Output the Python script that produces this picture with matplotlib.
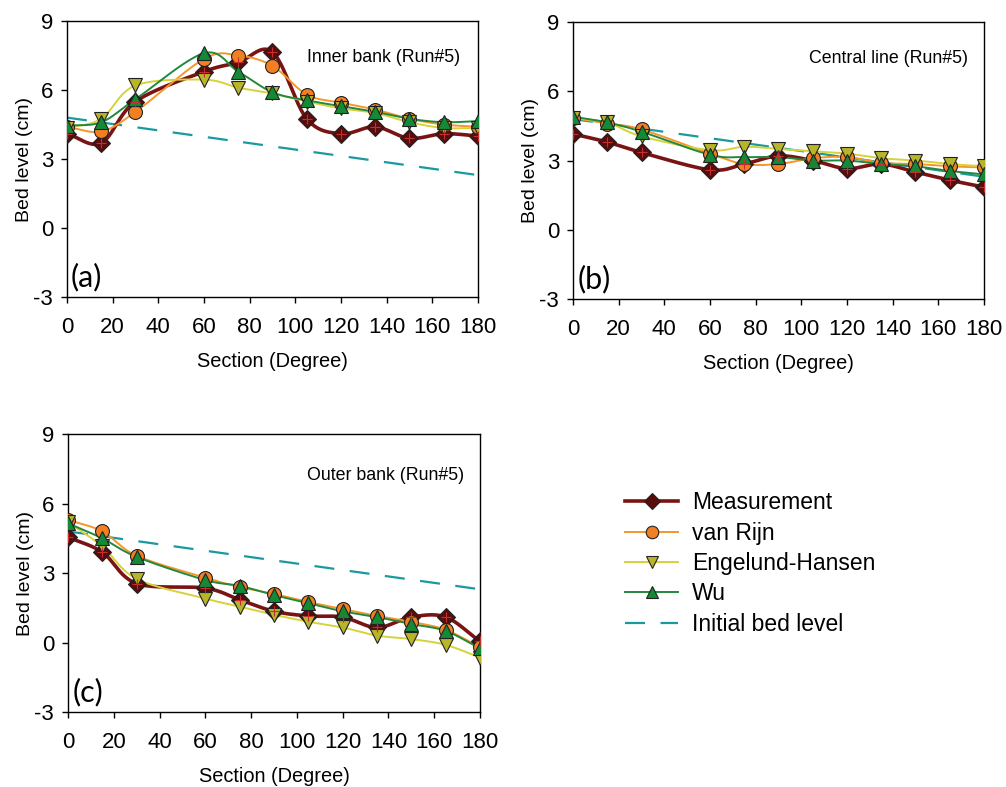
import numpy as np
import matplotlib
matplotlib.use('Agg')
import matplotlib.pyplot as plt
from matplotlib.lines import Line2D

plt.rcParams['font.family'] = ['Liberation Sans', 'DejaVu Sans']
plt.rcParams['axes.unicode_minus'] = False

sections = [0, 15, 30, 60, 75, 90, 105, 120, 135, 150, 165, 180]
initial_bed = [4.8, 2.3]  # linear initial bed level from 0 to 180 degree

# inner bank
inner_meas = [4.1, 3.7, 5.5, 6.8, 7.2, 7.65, 4.75, 4.1, 4.4, 3.9, 4.1, 4.0]
inner_vr = [4.4, 4.2, 5.05, 7.35, 7.5, 7.05, 5.8, 5.45, 5.15, 4.75, 4.5, 4.4]
inner_eh = [4.35, 4.75, 6.2, 6.45, 6.1, 5.85, 5.5, 5.2, 5.0, 4.6, 4.35, 4.35]
inner_wu = [4.45, 4.6, 5.6, 7.6, 6.8, 5.9, 5.55, 5.3, 5.05, 4.75, 4.6, 4.65]

# central line
center_meas = [4.15, 3.8, 3.35, 2.6, 2.85, 3.2, 3.0, 2.65, 2.85, 2.5, 2.15, 1.85]
center_vr = [4.85, 4.6, 4.35, 3.3, 2.85, 2.85, 3.1, 3.15, 2.9, 2.85, 2.75, 2.7]
center_eh = [4.85, 4.65, 4.05, 3.45, 3.6, 3.5, 3.4, 3.3, 3.1, 3.0, 2.85, 2.75]
center_wu = [4.9, 4.65, 4.25, 3.25, 3.15, 3.15, 3.0, 3.0, 2.85, 2.75, 2.55, 2.4]

# outer bank
outer_meas = [4.55, 3.9, 2.55, 2.35, 1.85, 1.35, 1.15, 1.1, 0.65, 1.1, 1.1, 0.05]
outer_vr = [5.3, 4.8, 3.75, 2.8, 2.4, 2.1, 1.75, 1.45, 1.15, 0.9, 0.55, -0.2]
outer_eh = [5.2, 4.15, 2.75, 1.9, 1.55, 1.2, 0.9, 0.65, 0.3, 0.15, -0.1, -0.65]
outer_wu = [5.15, 4.5, 3.7, 2.7, 2.45, 2.05, 1.7, 1.35, 1.1, 0.8, 0.5, -0.25]

# tag, title, title position (axes fraction), axes rect, series
panels = [
    ('(a)', 'Inner bank (Run#5)', (0.956, 0.866), [0.0666, 0.6226, 0.4085, 0.3507],
     [inner_meas, inner_vr, inner_eh, inner_wu]),
    ('(b)', 'Central line (Run#5)', (0.96, 0.87), [0.5696, 0.6200, 0.4085, 0.3520],
     [center_meas, center_vr, center_eh, center_wu]),
    ('(c)', 'Outer bank (Run#5)', (0.961, 0.852), [0.0676, 0.0953, 0.4095, 0.3530],
     [outer_meas, outer_vr, outer_eh, outer_wu]),
]

# line colour, marker face colour, marker, marker size, line width
styles = [
    ('#7a1414', '#5a0c0c', 'D', 9.5, 2.6),
    ('#f5962a', '#f28022', 'o', 10, 1.4),
    ('#d6d23a', '#b8b52a', 'v', 10, 1.4),
    ('#23883c', '#138a35', '^', 10, 1.4),
]
names = ['Measurement', 'van Rijn', 'Engelund-Hansen', 'Wu']
dash_color = '#1a9aa0'


def smooth(x, y, n=24):
    # Catmull-Rom curve through the points, like a spreadsheet smoothed line
    x = np.asarray(x, float)
    y = np.asarray(y, float)
    px = np.concatenate([[2 * x[0] - x[1]], x, [2 * x[-1] - x[-2]]])
    py = np.concatenate([[2 * y[0] - y[1]], y, [2 * y[-1] - y[-2]]])
    xs, ys = [], []
    t = np.linspace(0, 1, n, endpoint=False)
    for i in range(1, len(px) - 2):
        for p, out in ((px, xs), (py, ys)):
            p0, p1, p2, p3 = p[i - 1], p[i], p[i + 1], p[i + 2]
            out.extend(0.5 * (2 * p1 + (-p0 + p2) * t
                              + (2 * p0 - 5 * p1 + 4 * p2 - p3) * t ** 2
                              + (-p0 + 3 * p1 - 3 * p2 + p3) * t ** 3))
    xs.append(x[-1])
    ys.append(y[-1])
    return np.array(xs), np.array(ys)


fig = plt.figure(figsize=(10.06, 7.87), dpi=100)

for tag, title, tpos, rect, series in panels:
    ax = fig.add_axes(rect)
    ax.plot([sections[0], sections[-1]], initial_bed, color=dash_color,
            lw=1.6, dashes=(9, 7), zorder=2)
    for vals, (lc, fc, mk, ms, lw) in zip(series, styles):
        sx, sy = smooth(sections, vals)
        ax.plot(sx, sy, color=lc, lw=lw, zorder=3)
        ax.plot(sections, vals, ls='none', marker=mk, ms=ms, mfc=fc,
                mec='#222222', mew=0.8, zorder=4)
        if mk == 'D':
            ax.plot(sections, vals, ls='none', marker='+', ms=7,
                    mec='#c03030', mew=0.8, zorder=5)
    ax.set_xlim(0, 180)
    ax.set_ylim(-3, 9)
    ax.set_xticks(np.arange(0, 181, 20))
    ax.set_yticks([-3, 0, 3, 6, 9])
    ax.tick_params(direction='out', length=4, width=1, labelsize=16)
    ax.tick_params(axis='x', pad=10.5)
    ax.tick_params(axis='y', pad=6)
    for sp in ax.spines.values():
        sp.set_linewidth(1.0)
    ax.set_xlabel('Section (Degree)', fontsize=14.4, labelpad=10)
    ax.set_ylabel('Bed level (cm)', fontsize=14, labelpad=0)
    ax.text(tpos[0], tpos[1], title, transform=ax.transAxes, ha='right',
            va='center', fontsize=12.8)
    ax.text(0.01, 0.02, tag, transform=ax.transAxes, ha='left',
            va='bottom', fontsize=22, family=['Lato', 'DejaVu Sans'])

handles = []
for name, (lc, fc, mk, ms, lw) in zip(names, styles):
    handles.append(Line2D([], [], color=lc, lw=lw, marker=mk, ms=ms * 0.9,
                          mfc=fc, mec='#222222', mew=0.8, label=name))
handles.append(Line2D([], [], color=dash_color, lw=1.6, dashes=(9, 7),
                      label='Initial bed level'))
fig.legend(handles=handles, loc='upper left', bbox_to_anchor=(0.601, 0.402),
           frameon=False, fontsize=16.5, handlelength=2.3, labelspacing=0.32,
           handletextpad=0.6, borderpad=0.4)

fig.savefig('out.png', dpi=100)
